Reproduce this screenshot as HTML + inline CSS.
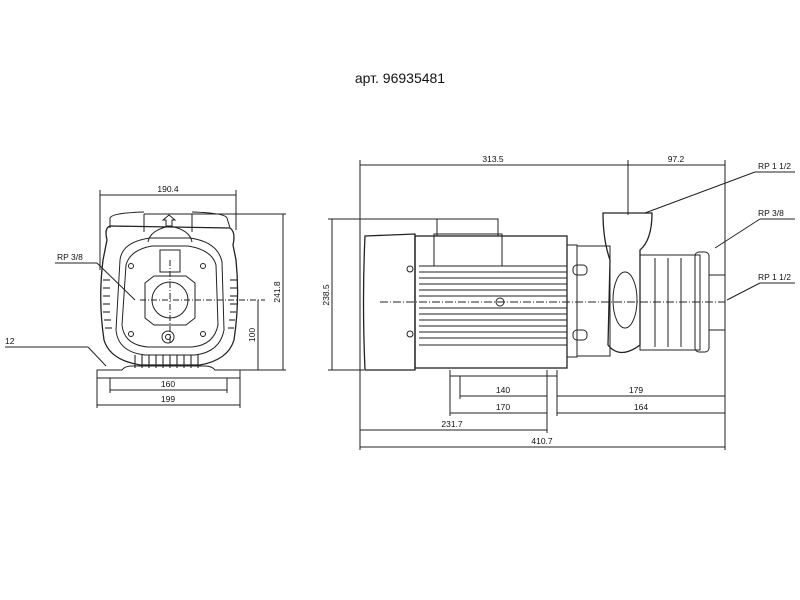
<!DOCTYPE html>
<html><head><meta charset="utf-8"><style>
html,body{margin:0;padding:0;background:#fff;width:800px;height:600px;overflow:hidden}
svg{display:block}
text{font-family:"Liberation Sans",sans-serif;fill:#111}
</style></head><body>
<svg width="800" height="600" viewBox="0 0 800 600" xmlns="http://www.w3.org/2000/svg">
<text x="400" y="83" font-size="14" text-anchor="middle" font-family="Liberation Sans, DejaVu Sans, sans-serif">арт. 96935481</text>
<g stroke="#222" stroke-width="1" fill="none">
<!-- FRONT VIEW -->
<line x1="100" y1="195" x2="236" y2="195"/><line x1="100" y1="190" x2="100" y2="270"/><line x1="236" y1="190" x2="236" y2="230"/>
<line x1="144" y1="214" x2="286" y2="214"/><line x1="144" y1="214" x2="144" y2="232"/><line x1="192" y1="214" x2="192" y2="232"/>
<path d="M110 228 L110 218 Q112 213 144 212 M192 212 Q225 213 227 218 L230 228" />
<path d="M107 240 Q104 228 110 226 L230 228 Q236 232 233 245 L236 260 Q240 300 234 340 Q228 360 200 365 L140 365 Q110 360 104 340 Q98 300 103 260 Z" stroke-width="1.3"/>
<path d="M120 260 Q122 242 150 238 L190 238 Q218 242 222 262 L224 330 Q220 352 195 355 L145 355 Q118 352 116 330 Z"/>
<path d="M126 265 Q130 250 152 246 L188 246 Q212 250 216 265 L218 325 Q214 345 192 347 L148 347 Q124 345 122 325 Z"/>
<path d="M145 283 L154 276 L186 276 L195 283 L195 318 L186 325 L154 325 L145 318 Z"/>
<circle cx="170" cy="300" r="18"/>
<path d="M160 250 L160 272 L180 272 L180 250 Z"/>
<path d="M148 242 Q150 230 170 226 Q190 230 192 242"/>
<circle cx="168" cy="337" r="6"/><circle cx="168" cy="337" r="2.5"/>
<circle cx="131" cy="266" r="2.5"/><circle cx="203" cy="266" r="2.5"/><circle cx="131" cy="334" r="2.5"/><circle cx="203" cy="334" r="2.5"/>
<path d="M166 226 L166 220 L163 220 L169 215 L175 220 L172 220 L172 226 Z"/>
<g stroke-width="1.1">
<line x1="103" y1="280" x2="110" y2="280"/><line x1="103" y1="288" x2="110" y2="288"/><line x1="103" y1="296" x2="110" y2="296"/><line x1="103" y1="304" x2="110" y2="304"/><line x1="103" y1="312" x2="110" y2="312"/><line x1="104" y1="320" x2="111" y2="320"/><line x1="105" y1="328" x2="112" y2="328"/>
<line x1="230" y1="280" x2="237" y2="280"/><line x1="230" y1="288" x2="237" y2="288"/><line x1="230" y1="296" x2="237" y2="296"/><line x1="230" y1="304" x2="237" y2="304"/><line x1="230" y1="312" x2="236" y2="312"/><line x1="229" y1="320" x2="235" y2="320"/><line x1="228" y1="328" x2="234" y2="328"/>
<line x1="135" y1="355" x2="135" y2="368"/><line x1="142" y1="355" x2="142" y2="368"/><line x1="149" y1="355" x2="149" y2="368"/><line x1="156" y1="355" x2="156" y2="368"/><line x1="163" y1="355" x2="163" y2="368"/><line x1="170" y1="355" x2="170" y2="368"/><line x1="177" y1="355" x2="177" y2="368"/><line x1="184" y1="355" x2="184" y2="368"/><line x1="191" y1="355" x2="191" y2="368"/><line x1="198" y1="355" x2="198" y2="368"/>
</g>
<path d="M97 370 L97 378 L240 378 L240 370 L215 370 Q212 366 205 366 L132 366 Q125 366 122 370 Z"/>
<line x1="140" y1="300" x2="265" y2="300" stroke-dasharray="6 2 1 2"/><line x1="170" y1="260" x2="170" y2="345" stroke-dasharray="6 2 1 2"/>
<line x1="110" y1="378" x2="110" y2="393"/><line x1="227" y1="378" x2="227" y2="393"/><line x1="110" y1="390" x2="227" y2="390"/>
<line x1="97" y1="378" x2="97" y2="408"/><line x1="240" y1="378" x2="240" y2="408"/><line x1="97" y1="405" x2="240" y2="405"/>
<line x1="283" y1="214" x2="283" y2="370"/><line x1="240" y1="370" x2="286" y2="370"/>
<line x1="258" y1="300" x2="258" y2="370"/>
<line x1="55" y1="263" x2="97" y2="263"/><line x1="97" y1="263" x2="135" y2="300"/>
<line x1="5" y1="347" x2="88" y2="347"/><line x1="88" y1="347" x2="106" y2="366"/>
<!-- SIDE VIEW -->
<line x1="360" y1="165" x2="725" y2="165"/><line x1="360" y1="160" x2="360" y2="450"/><line x1="725" y1="160" x2="725" y2="450"/>
<line x1="628" y1="160" x2="628" y2="215"/>
<line x1="332" y1="219" x2="332" y2="370"/><line x1="328" y1="219" x2="440" y2="219"/><line x1="328" y1="370" x2="364" y2="370"/>
<path d="M365 236 L415 234 L415 370 L365 370 Q362 300 365 236 Z" stroke-width="1.3"/>
<rect x="415" y="236" width="152" height="132" stroke-width="1.3"/>
<rect x="437" y="219" width="61" height="17"/><rect x="434" y="234" width="68" height="32"/>
<line x1="419" y1="266" x2="567" y2="266"/><line x1="419" y1="345" x2="567" y2="345"/>
<g stroke-width="0.9">
<line x1="419" y1="272" x2="567" y2="272"/><line x1="419" y1="278" x2="567" y2="278"/><line x1="419" y1="284" x2="567" y2="284"/><line x1="419" y1="290" x2="567" y2="290"/><line x1="419" y1="296" x2="567" y2="296"/>
<line x1="419" y1="308" x2="567" y2="308"/><line x1="419" y1="314" x2="567" y2="314"/><line x1="419" y1="320" x2="567" y2="320"/><line x1="419" y1="326" x2="567" y2="326"/><line x1="419" y1="332" x2="567" y2="332"/><line x1="419" y1="338" x2="567" y2="338"/>
</g>
<circle cx="410" cy="269" r="3"/><circle cx="410" cy="334" r="3"/><circle cx="500" cy="302" r="4"/>
<rect x="567" y="245" width="10" height="112"/><rect x="577" y="246" width="33" height="110"/>
<rect x="573" y="265" width="14" height="10" rx="4"/><rect x="573" y="330" width="14" height="10" rx="4"/>
<path d="M603 213 L652 213 Q652 240 640 250 L640 345 Q620 360 608 345 L610 260 Q603 240 603 213 Z" stroke-width="1.3"/>
<ellipse cx="625" cy="300" rx="12" ry="28"/>
<rect x="640" y="255" width="60" height="95"/>
<line x1="655" y1="258" x2="655" y2="347"/><line x1="668" y1="258" x2="668" y2="347"/><line x1="681" y1="258" x2="681" y2="347"/>
<rect x="695" y="252" width="14" height="100" rx="4"/><rect x="709" y="275" width="16" height="55"/>
<line x1="380" y1="302" x2="725" y2="302" stroke-dasharray="8 2 1 2"/>
<path d="M450 370 L450 376 L557 376 L557 370"/>
<line x1="460" y1="376" x2="460" y2="399"/><line x1="547" y1="370" x2="547" y2="433"/><line x1="557" y1="376" x2="557" y2="416"/><line x1="450" y1="376" x2="450" y2="416"/>
<line x1="460" y1="396" x2="547" y2="396"/><line x1="557" y1="396" x2="725" y2="396"/>
<line x1="450" y1="413" x2="547" y2="413"/><line x1="557" y1="413" x2="725" y2="413"/>
<line x1="360" y1="430" x2="547" y2="430"/><line x1="360" y1="447" x2="725" y2="447"/>
<line x1="645" y1="213" x2="755" y2="172"/><line x1="755" y1="172" x2="795" y2="172"/>
<line x1="715" y1="248" x2="760" y2="219"/><line x1="760" y1="219" x2="795" y2="219"/>
<line x1="727" y1="300" x2="760" y2="283"/><line x1="760" y1="283" x2="795" y2="283"/>
</g>
<g font-size="8.5">
<text x="168" y="192" text-anchor="middle">190.4</text>
<text x="57" y="260">RP 3/8</text>
<text x="5" y="344">12</text>
<text x="168" y="387" text-anchor="middle">160</text>
<text x="168" y="402" text-anchor="middle">199</text>
<text transform="translate(280,292) rotate(-90)" text-anchor="middle">241.8</text>
<text transform="translate(255,335) rotate(-90)" text-anchor="middle">100</text>
<text x="493" y="162" text-anchor="middle">313.5</text>
<text x="676" y="162" text-anchor="middle">97.2</text>
<text transform="translate(329,295) rotate(-90)" text-anchor="middle">238.5</text>
<text x="758" y="169">RP 1 1/2</text>
<text x="758" y="216">RP 3/8</text>
<text x="758" y="280">RP 1 1/2</text>
<text x="503" y="393" text-anchor="middle">140</text>
<text x="636" y="393" text-anchor="middle">179</text>
<text x="503" y="410" text-anchor="middle">170</text>
<text x="641" y="410" text-anchor="middle">164</text>
<text x="452" y="427" text-anchor="middle">231.7</text>
<text x="542" y="444" text-anchor="middle">410.7</text>
</g>
</svg>
</body></html>
